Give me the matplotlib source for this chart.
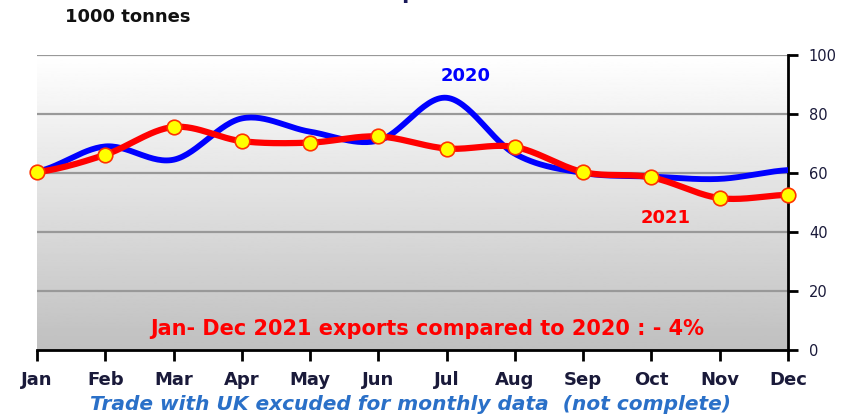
import numpy as np
import matplotlib.pyplot as plt

months = ['Jan', 'Feb', 'Mar', 'Apr', 'May', 'Jun',
          'Jul', 'Aug', 'Sep', 'Oct', 'Nov', 'Dec']
exports_2020 = [60.5, 69, 64.5, 78.5, 74, 71, 85.5, 66.5, 60, 58.8, 58, 61]
exports_2021 = [60.3, 66.2, 75.6, 70.8, 70.3, 72.4, 68.3, 68.8, 60.3, 58.5, 51.5, 52.6]
y_ticks = [0, 20, 40, 60, 80, 100]


def smooth(y, n=30):
    # catmull-rom like excel's smoothed line
    y = np.asarray(y, dtype=float)
    p = np.r_[y[0], y, y[-1]]
    xs, ys = [], []
    for i in range(len(y) - 1):
        p0, p1, p2, p3 = p[i], p[i + 1], p[i + 2], p[i + 3]
        t = np.linspace(0, 1, n, endpoint=False)
        v = 0.5 * (2 * p1 + (-p0 + p2) * t + (2 * p0 - 5 * p1 + 4 * p2 - p3) * t ** 2
                   + (-p0 + 3 * p1 - 3 * p2 + p3) * t ** 3)
        xs.append(i + t)
        ys.append(v)
    xs.append([len(y) - 1])
    ys.append([y[-1]])
    return np.concatenate(xs), np.concatenate(ys)


fig = plt.figure(figsize=(8.58, 4.17), dpi=100)
ax = fig.add_axes([37 / 858, 67 / 417, 751 / 858, 295 / 417])

x = np.arange(len(months))
ax.set_xlim(0, 11)
ax.set_ylim(0, 100)

# grey gradient background
grad = np.linspace(0.75, 1.0, 256).reshape(-1, 1)
ax.imshow(grad, extent=[0, 11, 0, 100], origin='lower', aspect='auto',
          cmap='gray', vmin=0, vmax=1, zorder=0)

for yt in y_ticks[1:]:
    ax.axhline(yt, color='#999999', lw=1.6, zorder=1)

xs, ys = smooth(exports_2020)
ax.plot(xs, ys, color='#0000ff', lw=4.2, zorder=3, solid_capstyle='round')
xs, ys = smooth(exports_2021)
ax.plot(xs, ys, color='#ff0000', lw=4.5, zorder=4, solid_capstyle='round')
ax.plot(x, exports_2021, 'o', ms=10.5, mfc='#ffff00', mec='#ff3300', mew=1.2,
        zorder=5, clip_on=False)

for s in ['left', 'top']:
    ax.spines[s].set_visible(False)
ax.spines['right'].set_linewidth(2)
ax.spines['bottom'].set_linewidth(2)

ax.yaxis.tick_right()
ax.set_yticks(y_ticks)
ax.set_xticks(x)
ax.set_xticklabels(months, fontsize=13, fontweight='bold', color='#1a1a3a')
ax.set_yticklabels(y_ticks, fontsize=10.5, color='#1a1a3a')
ax.tick_params(axis='x', direction='out', length=8, width=2, pad=7)
ax.tick_params(axis='y', direction='out', length=7, width=2, pad=8)

ax.text(6.28, 93, '2020', color='#0000ff', fontsize=13, fontweight='bold',
        ha='center', va='center', zorder=6)
ax.text(9.21, 44.7, '2021', color='#ff0000', fontsize=13, fontweight='bold',
        ha='center', va='center', zorder=6)
ax.text(5.71, 7, 'Jan- Dec 2021 exports compared to 2020 : - 4%', color='#ff0000',
        fontsize=15, fontweight='bold', ha='center', va='center', zorder=6)

fig.text(65 / 858, 1 - 17 / 417, '1000 tonnes', fontsize=13, fontweight='bold',
         color='#111111', ha='left', va='center')
fig.text(400 / 858, 1 + 7 / 417, 'EU exports', fontsize=15, fontweight='bold',
         color='#1a1a5a', ha='center', va='center')
fig.text(411 / 858, 1 - 405 / 417, 'Trade with UK excuded for monthly data  (not complete)',
         fontsize=14.5, fontweight='bold', fontstyle='italic', color='#2a70c8',
         ha='center', va='center')

fig.savefig('out.png', dpi=100)
